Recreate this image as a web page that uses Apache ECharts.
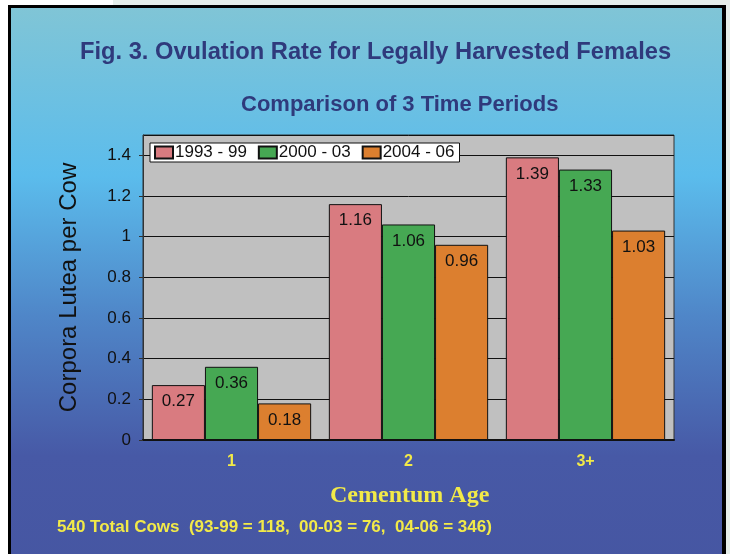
<!DOCTYPE html>
<html><head><meta charset="utf-8">
<script src="https://cdn.jsdelivr.net/npm/echarts@6/dist/echarts.min.js"></script>
<style>html,body{margin:0;padding:0;background:#fff}#c{width:730px;height:554px}</style>
</head><body><div id="c"></div>
<script>
var categories = ['1', '2', '3+'];
var seriesNames = ['1993 - 99', '2000 - 03', '2004 - 06'];
var s1993 = [0.27, 1.16, 1.39];
var s2000 = [0.36, 1.06, 1.33];
var s2004 = [0.18, 0.96, 1.03];
var colors = ['#d97b80', '#46a853', '#dc7f2f'];
var titleText = 'Fig. 3. Ovulation Rate for Legally Harvested Females';
var subtitleText = 'Comparison of 3 Time Periods';
var yName = 'Corpora Lutea per Cow';
var xName = 'Cementum Age';
var footer = '540 Total Cows  (93-99 = 118,  00-03 = 76,  04-06 = 346)';

var chart = echarts.init(document.getElementById('c'), null, {renderer: 'canvas'});
function mk(name, data, color) {
  return {
    name: name, type: 'bar', data: data, barGap: '0%', barCategoryGap: '10%',
    itemStyle: {color: color, borderColor: '#111', borderWidth: 1},
    label: {show: true, position: 'insideTop', distance: 8, color: '#111', fontSize: 17, fontFamily: 'Arial, Liberation Sans'},
    animation: false
  };
}
var option = {
  animation: false,
  graphic: [
    {type: 'rect', z: -10, shape: {x: 0, y: 0, width: 730, height: 554}, style: {fill: '#e6eeea'}},
    {type: 'rect', z: -9, shape: {x: 0, y: 0, width: 113, height: 6}, style: {fill: '#ffffff'}},
    {type: 'rect', z: -9, shape: {x: 0, y: 0, width: 8, height: 554}, style: {fill: '#ffffff'}},
    {type: 'rect', z: -8, shape: {x: 8, y: 5, width: 718, height: 560}, style: {fill: '#000'}},
    {type: 'rect', z: -7, shape: {x: 11, y: 8, width: 711, height: 560},
      style: {fill: new echarts.graphic.LinearGradient(0, 0, 0, 1, [
        {offset: 0, color: '#80c5d6'},
        {offset: 0.3, color: '#5bbcec'},
        {offset: 0.55, color: '#4f86c8'},
        {offset: 0.8, color: '#4759a6'},
        {offset: 1, color: '#4656a2'}
      ])}},
    {type: 'text', left: 80, top: 40, style: {text: titleText, fill: '#2f3a7c', font: 'bold 23.7px Arial, Liberation Sans'}},
    {type: 'text', left: 241, top: 94, style: {text: subtitleText, fill: '#2f3a7c', font: 'bold 22px Arial, Liberation Sans'}},
    {type: 'text', left: 57, top: 519, style: {text: footer, fill: '#f2ea48', font: 'bold 17px Arial, Liberation Sans'}},
    {type: 'text', left: 330, top: 484, style: {text: xName, fill: '#f2ea48', font: 'bold 24px "Times New Roman", Liberation Serif'}}
  ],
  legend: {
    data: seriesNames, left: 150, top: 143, orient: 'horizontal',
    backgroundColor: '#fff', borderColor: '#111', borderWidth: 1, padding: [1, 5, 1, 4],
    itemWidth: 18, itemHeight: 12, itemGap: 11, icon: 'rect',
    textStyle: {color: '#111', fontSize: 17, fontFamily: 'Arial, Liberation Sans', padding: [0, 0, 0, -3]}
  },
  grid: {left: 143, right: 56, top: 135, bottom: 114, show: true, backgroundColor: '#c0c0c0', borderColor: '#333', borderWidth: 1},
  xAxis: {
    type: 'category', data: categories,
    axisLine: {lineStyle: {color: '#111', width: 2}},
    axisTick: {show: false},
    axisLabel: {color: '#f2ea48', fontWeight: 'bold', fontSize: 16, fontFamily: 'Arial, Liberation Sans', margin: 14}
  },
  yAxis: {
    type: 'value', min: 0, max: 1.5, interval: 0.2,
    name: yName, nameLocation: 'middle', nameGap: 62, nameRotate: 90,
    nameTextStyle: {color: '#111', fontSize: 24, fontFamily: 'Arial, Liberation Sans'},
    axisLine: {show: true, lineStyle: {color: '#333'}},
    axisTick: {show: true, length: 4, lineStyle: {color: '#333'}},
    axisLabel: {color: '#111', fontSize: 17, fontFamily: 'Arial, Liberation Sans', margin: 12, showMaxLabel: false,
      formatter: function (v) { return v > 1.45 ? '' : String(Math.round(v * 10) / 10); }},
    splitLine: {lineStyle: {color: '#111', width: 1}}
  },
  series: [mk(seriesNames[0], s1993, colors[0]), mk(seriesNames[1], s2000, colors[1]), mk(seriesNames[2], s2004, colors[2])]
};
chart.setOption(option);
</script></body></html>
